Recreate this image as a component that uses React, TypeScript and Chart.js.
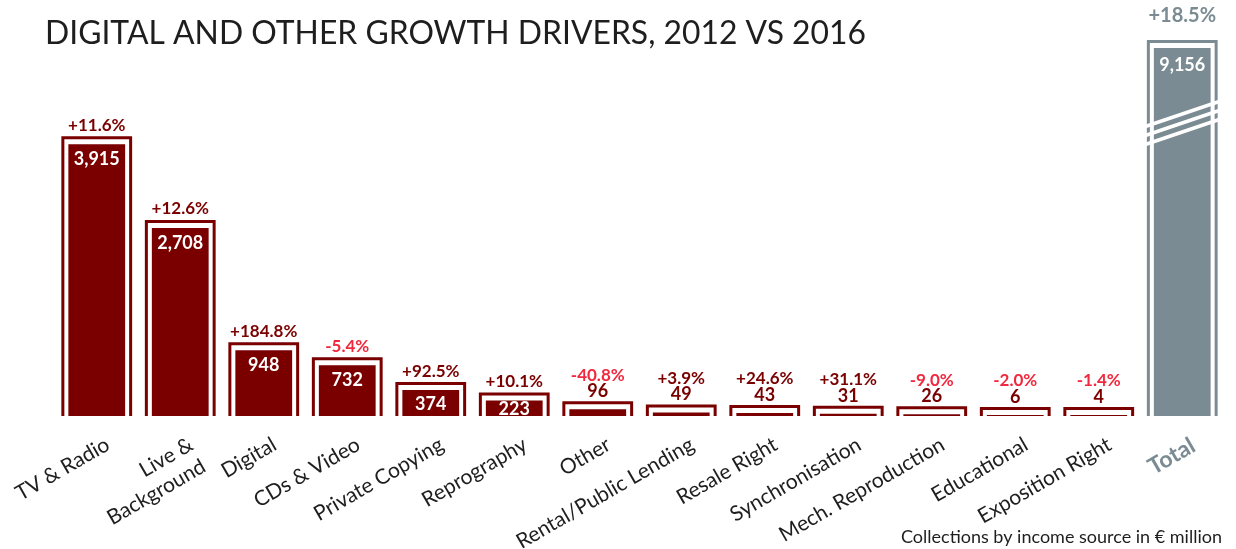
import React, { useEffect, useRef } from 'react';
import { Chart, registerables } from 'chart.js';

Chart.register(...registerables);

const categories: (string | string[])[] = [
  'TV & Radio',
  ['Live &', 'Background'],
  'Digital',
  'CDs & Video',
  'Private Copying',
  'Reprography',
  'Other',
  'Rental/Public Lending',
  'Resale Right',
  'Synchronisation',
  'Mech. Reproduction',
  'Educational',
  'Exposition Right',
  'Total',
];
const values2016: (number | null)[] = [3915, 2708, 948, 732, 374, 223, 96, 49, 43, 31, 26, 6, 4, null];
const totalValues: (number | null)[] = [null, null, null, null, null, null, null, null, null, null, null, null, null, 9156];
const growthPct: number[] = [11.6, 12.6, 184.8, -5.4, 92.5, 10.1, -40.8, 3.9, 24.6, 31.1, -9.0, -2.0, -1.4, 18.5];
const titleText = 'DIGITAL AND OTHER GROWTH DRIVERS, 2012 VS 2016';
const captionText = 'Collections by income source in \u20AC million';

const RED = '#7a0000';
const GREY = '#7b8b93';
const NEG = '#f2283e';
const TEXT = '#1e1e1e';
const FONT = 'Lato, "Open Sans", sans-serif';

const fmtPct = (v: number) => (v > 0 ? '+' : '') + v.toFixed(1) + '%';

const decorPlugin = {
  id: 'decor',
  beforeDatasetsDraw(chart: any) {
    const ctx = chart.ctx;
    chart.data.datasets.forEach((ds: any, di: number) => {
      const meta = chart.getDatasetMeta(di);
      meta.data.forEach((bar: any, i: number) => {
        if (ds.data[i] == null) return;
        const p = bar.getProps(['x', 'y', 'base', 'width'], true);
        const off = 5.5;
        const l = p.x - p.width / 2 - off;
        const r = p.x + p.width / 2 + off;
        const t = p.y - off - 1;
        ctx.save();
        ctx.strokeStyle = ds.backgroundColor;
        ctx.lineWidth = 3;
        ctx.beginPath();
        ctx.moveTo(l, p.base);
        ctx.lineTo(l, t);
        ctx.lineTo(r, t);
        ctx.lineTo(r, p.base);
        ctx.stroke();
        ctx.restore();
      });
    });
  },
  afterDatasetsDraw(chart: any) {
    const ctx = chart.ctx;
    ctx.save();
    ctx.textAlign = 'center';
    ctx.textBaseline = 'middle';
    chart.data.datasets.forEach((ds: any, di: number) => {
      const meta = chart.getDatasetMeta(di);
      const isTotal = di === 1;
      meta.data.forEach((bar: any, i: number) => {
        const v = ds.data[i];
        if (v == null) return;
        const p = bar.getProps(['x', 'y', 'base', 'width'], true);
        const frameTop = p.y - 8;
        const pct = growthPct[i];
        const pctColor = isTotal ? GREY : pct < 0 ? NEG : RED;
        const label = v.toLocaleString('en-US');
        if (isTotal) {
          ctx.strokeStyle = '#ffffff';
          ctx.lineWidth = 3.5;
          const l = p.x - p.width / 2 - 10;
          const r = p.x + p.width / 2 + 10;
          for (let k = 0; k < 3; k++) {
            ctx.beginPath();
            ctx.moveTo(l, p.y + 79 + 9 * k);
            ctx.lineTo(r, p.y + 53 + 9 * k);
            ctx.stroke();
          }
          ctx.fillStyle = '#ffffff';
          ctx.font = 'bold 18px ' + FONT;
          ctx.fillText(label, p.x, p.y + 17);
          ctx.fillStyle = pctColor;
          ctx.font = 'bold 20px ' + FONT;
          ctx.fillText(fmtPct(pct), p.x, frameTop - 24);
        } else if (v >= 200) {
          const h = p.base - p.y;
          ctx.fillStyle = '#ffffff';
          ctx.font = 'bold 18px ' + FONT;
          ctx.fillText(label, p.x, p.y + Math.min(15, h / 2 + 1));
          ctx.fillStyle = pctColor;
          ctx.font = 'bold 17px ' + FONT;
          ctx.fillText(fmtPct(pct), p.x, frameTop - 11);
        } else {
          ctx.fillStyle = RED;
          ctx.font = 'bold 18px ' + FONT;
          ctx.fillText(label, p.x, frameTop - 10);
          ctx.fillStyle = pctColor;
          ctx.font = 'bold 17px ' + FONT;
          ctx.fillText(fmtPct(pct), p.x, frameTop - 26);
        }
      });
    });
    ctx.restore();
  },
  afterDraw(chart: any) {
    const ctx = chart.ctx;
    ctx.save();
    ctx.fillStyle = TEXT;
    ctx.textBaseline = 'alphabetic';
    ctx.textAlign = 'left';
    ctx.font = '32px ' + FONT;
    const w = ctx.measureText(titleText).width;
    const target = 821;
    ctx.translate(45, 44);
    ctx.scale(target / w, 1);
    ctx.fillText(titleText, 0, 0);
    ctx.restore();

    ctx.save();
    ctx.fillStyle = TEXT;
    ctx.textAlign = 'right';
    ctx.textBaseline = 'middle';
    ctx.font = '18px ' + FONT;
    ctx.fillText(captionText, 1222, 537);
    ctx.restore();
  },
};

export default function App() {
  const canvasRef = useRef<HTMLCanvasElement | null>(null);

  useEffect(() => {
    document.body.style.margin = '0';
    const canvas = canvasRef.current;
    if (!canvas) return;
    const chart = new Chart(canvas, {
      type: 'bar',
      data: {
        labels: categories,
        datasets: [
          {
            label: '2016',
            data: values2016,
            backgroundColor: RED,
            yAxisID: 'y',
            grouped: false,
            barPercentage: 0.68,
            categoryPercentage: 1,
            minBarLength: 1,
          } as any,
          {
            label: 'Total',
            data: totalValues,
            backgroundColor: GREY,
            yAxisID: 'y2',
            grouped: false,
            barPercentage: 0.68,
            categoryPercentage: 1,
          } as any,
        ],
      },
      options: {
        animation: false,
        responsive: false,
        layout: { padding: { top: 48, left: 55, right: 12, bottom: 0 } },
        plugins: {
          legend: { display: false },
          tooltip: { enabled: false },
          title: { display: false },
        },
        scales: {
          x: {
            grid: { display: false },
            border: { display: false },
            afterFit: (scale: any) => {
              scale.height = 133;
              scale.paddingLeft = 0;
              scale.paddingRight = 0;
            },
            ticks: {
              autoSkip: false,
              minRotation: 30,
              maxRotation: 30,
              padding: 8,
              labelOffset: 11,
              color: (c: any) => (c.index === 13 ? GREY : TEXT),
              font: (c: any) =>
                c.index === 13
                  ? { family: FONT, size: 23, weight: 'bold' }
                  : { family: FONT, size: 21 },
            },
          },
          y: { display: false, min: 0, max: 5300 },
          y2: { display: false, min: 0, max: 9156 },
        },
      },
      plugins: [decorPlugin],
    });
    return () => chart.destroy();
  }, []);

  return (
    <div style={{ width: 1236, height: 549, position: 'relative' }}>
      <canvas ref={canvasRef} width={1236} height={549} />
    </div>
  );
}
